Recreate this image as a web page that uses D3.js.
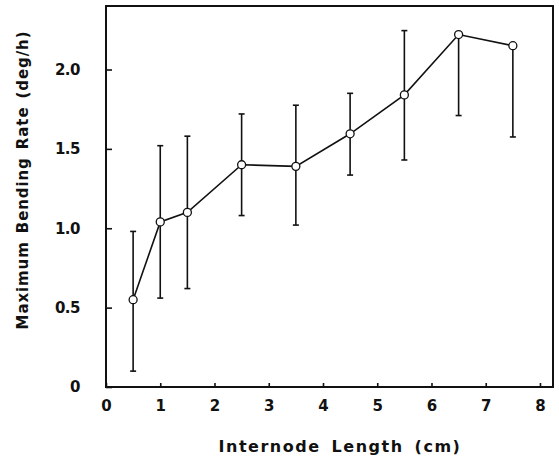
<!DOCTYPE html>
<html>
<head>
<meta charset="utf-8">
<script src="https://cdn.jsdelivr.net/npm/d3@7"></script>
<style>
  html, body { margin: 0; padding: 0; background: #fff; }
  svg { display: block; }
  text { font-family: "DejaVu Sans", sans-serif; font-weight: bold; fill: #111; }
</style>
</head>
<body>
<svg id="chart" width="559" height="459"></svg>
<script>
const lengths = [0.5, 1.0, 1.5, 2.5, 3.5, 4.5, 5.5, 6.5, 7.5];
const rates   = [0.55, 1.04, 1.10, 1.40, 1.39, 1.595, 1.84, 2.22, 2.15];
const errUpper = [0.98, 1.52, 1.58, 1.72, 1.775, 1.85, 2.245, null, null];
const errLower = [0.10, 0.56, 0.62, 1.08, 1.02, 1.335, 1.43, 1.71, 1.575];
const xTicks = [0, 1, 2, 3, 4, 5, 6, 7, 8];
const yTicks = [0, 0.5, 1.0, 1.5, 2.0];
const yTickLabels = ["0", "0.5", "1.0", "1.5", "2.0"];

const svg = d3.select("#chart");
const x = d3.scaleLinear().domain([0, 8.24]).range([106, 553]);
const y = d3.scaleLinear().domain([0, 2.4]).range([387, 6]);

const ink = "#111";

// frame
svg.append("rect")
  .attr("x", x(0)).attr("y", y(2.4))
  .attr("width", x(8.24) - x(0)).attr("height", y(0) - y(2.4))
  .attr("fill", "none").attr("stroke", ink).attr("stroke-width", 2);

// bottom axis (ticks inward)
const xAxis = d3.axisBottom(x).tickValues(xTicks).tickSize(-4).tickPadding(13)
  .tickFormat(d3.format("d"));
const gx = svg.append("g").attr("transform", `translate(0,${y(0)})`).call(xAxis);
gx.select(".domain").remove();
gx.selectAll(".tick line").attr("stroke", ink).attr("stroke-width", 1.6);
gx.selectAll(".tick text").attr("font-size", 15).attr("font-family", "DejaVu Sans")
  .attr("font-weight", "bold").attr("fill", ink);

// left axis (ticks inward)
const yAxis = d3.axisLeft(y).tickValues(yTicks).tickSize(-6).tickPadding(26)
  .tickFormat((d, i) => yTickLabels[i]);
const gy = svg.append("g").attr("transform", `translate(${x(0)},0)`).call(yAxis);
gy.select(".domain").remove();
gy.selectAll(".tick line").attr("stroke", ink).attr("stroke-width", 1.6);
gy.selectAll(".tick text").attr("font-size", 15).attr("font-family", "DejaVu Sans")
  .attr("font-weight", "bold").attr("fill", ink).attr("letter-spacing", -0.5);

// error bars
const data = lengths.map((l, i) => ({ l, r: rates[i], hi: errUpper[i], lo: errLower[i] }));
const eb = svg.append("g").attr("stroke", ink).attr("stroke-width", 1.6);
data.forEach(d => {
  const top = d.hi == null ? d.r : d.hi;
  eb.append("line").attr("x1", x(d.l)).attr("x2", x(d.l)).attr("y1", y(top)).attr("y2", y(d.lo));
  if (d.hi != null)
    eb.append("line").attr("x1", x(d.l) - 3).attr("x2", x(d.l) + 3).attr("y1", y(d.hi)).attr("y2", y(d.hi));
  eb.append("line").attr("x1", x(d.l) - 3).attr("x2", x(d.l) + 3).attr("y1", y(d.lo)).attr("y2", y(d.lo));
});

// line
svg.append("path").datum(data)
  .attr("d", d3.line().x(d => x(d.l)).y(d => y(d.r)))
  .attr("fill", "none").attr("stroke", ink).attr("stroke-width", 1.6);

// markers
svg.append("g").selectAll("circle").data(data).join("circle")
  .attr("cx", d => x(d.l)).attr("cy", d => y(d.r)).attr("r", 4)
  .attr("fill", "#fff").attr("stroke", ink).attr("stroke-width", 1.3);

// axis titles
svg.append("text").attr("x", 340).attr("y", 452).attr("text-anchor", "middle")
  .attr("font-size", 16).attr("letter-spacing", 1.5).attr("word-spacing", 4)
  .text("Internode Length (cm)");
svg.append("text").attr("transform", "translate(28,180) rotate(-90)").attr("text-anchor", "middle")
  .attr("font-size", 15).attr("letter-spacing", 0.9).attr("word-spacing", 2)
  .text("Maximum Bending Rate (deg/h)");
</script>
</body>
</html>
